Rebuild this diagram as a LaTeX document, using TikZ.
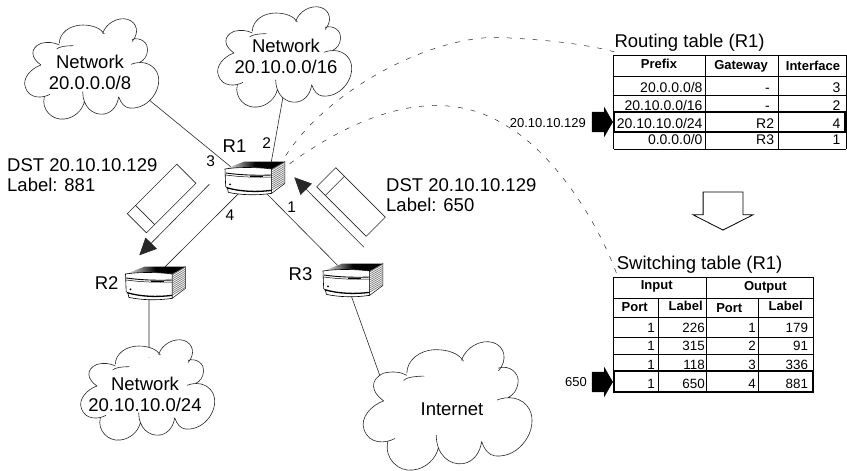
\documentclass[tikz,border=0pt]{standalone}
\usepackage{fontspec}
\setmainfont{Liberation Sans}
\usetikzlibrary{arrows.meta,backgrounds,calc,shapes.arrows}
\definecolor{linkgray}{RGB}{40,40,40}
\definecolor{hatchgray}{RGB}{120,120,120}
\tikzset{
    cloudpic/.pic={
        \begin{scope}[scale=0.3333, shift={(-278,-207)}]
            \fill[white] (125,195) -- (180,135) -- (315,102) -- (398,125) -- (420,188) -- (395,193)
                -- (358,290) -- (255,305) -- (135,290) -- cycle;
            \draw[linkgray, line width=0.6pt, fill=white]
                (125,195) .. controls (95,205) and (68,235) .. (78,262) .. controls (90,298) and (130,295) .. (152,283)
                (135,290) .. controls (125,330) and (160,362) .. (195,357) .. controls (225,354) and (250,330) .. (255,305)
                (250,275) .. controls (250,320) and (280,347) .. (315,342) .. controls (340,337) and (355,315) .. (358,290)
                (395,193) .. controls (420,183) and (455,185) .. (472,215) .. controls (495,260) and (450,330) .. (390,324)
                    .. controls (375,322) and (365,310) .. (358,290)
                (398,118) .. controls (425,110) and (447,130) .. (445,150) .. controls (443,170) and (435,180) .. (420,188)
                (310,100) .. controls (320,70) and (355,50) .. (385,58) .. controls (415,68) and (420,100) .. (398,125)
                (180,130) .. controls (180,100) and (210,75) .. (250,75) .. controls (280,75) and (305,85) .. (315,102)
                (125,195) .. controls (95,175) and (90,145) .. (125,130) .. controls (145,125) and (165,127) .. (180,135);
            \draw[linkgray, line width=0.6pt] (172,147) .. controls (178,140) and (200,137) .. (222,137);
        \end{scope}
    },
    routerpic/.pic={
        \begin{scope}[scale=0.3333, shift={(-105,-69)}]
            \shade[left color=white, right color=black, middle color=black]
                (15,42) -- (72,20) -- (195,20) -- (155,42) .. controls (110,36) and (50,36) .. (15,42);
            \draw[fill=white, line width=0.5pt] (155,42) -- (195,20) -- (195,85) -- (155,115) -- cycle;
            \foreach \hatch in {28,34,...,88}
                \draw[hatchgray, line width=0.7pt] (157,\hatch+16) -- (194,\hatch-6);
            \draw[fill=white, line width=0.6pt] (15,42) .. controls (50,36) and (110,36) .. (155,42) -- (155,115)
                .. controls (110,122) and (60,120) .. (25,112) -- (22,98) -- (17,95) -- cycle;
            \draw[line width=0.9pt] (17,54) .. controls (60,60) and (110,62) .. (155,60);
            \draw[line width=0.5pt] (17,60) .. controls (60,66) and (110,68) .. (155,66);
            \draw[line width=1.4pt] (90,65) -- (130,65);
            \draw[line width=1.3pt] (20,98) .. controls (60,110) and (110,112) .. (155,106);
            \fill (30,88) circle (3);
        \end{scope}
    }
}

\begin{document}
\begin{tikzpicture}[x=1pt, y=-1pt]
    \tikzstyle{every node} = [inner sep=0pt, text=black]
    \tikzstyle{bigtext} = [font=\fontsize{18.5}{21}\selectfont, align=center]
    \tikzstyle{leftnote} = [font=\fontsize{18.5}{20.5}\selectfont, align=left, anchor=west]
    \tikzstyle{porttext} = [font=\fontsize{15.5}{17}\selectfont]
    \tikzstyle{routerbox} = [minimum width=48pt, minimum height=22pt]
    \tikzstyle{wirelink} = [draw=linkgray, line width=0.6pt]
    \tikzstyle{tracelink} = [draw=linkgray, line width=0.5pt, dash pattern=on 5pt off 8pt]
    \tikzstyle{packetbox} = [draw=linkgray, line width=0.6pt, minimum width=70pt, minimum height=27pt]
    \tikzstyle{flowarrow} = [draw=linkgray, line width=0.6pt, -{Triangle[length=17pt, width=16pt]}]
    \tikzstyle{blockarrow} = [single arrow, fill=black, inner ysep=10pt, minimum height=21pt,
        single arrow head extend=5pt, single arrow tip angle=120]
    \tikzstyle{tablecell} = [font=\fontsize{14}{16}\selectfont, anchor=base east]
    \tikzstyle{switchcell} = [font=\fontsize{13.4}{16}\selectfont, anchor=base east]
    \tikzstyle{headcell} = [font=\bfseries\fontsize{13}{15}\selectfont]
    \tikzstyle{gridline} = [draw=black, line width=0.7pt]
    \tikzstyle{hitrow} = [draw=black, line width=2.8pt]

    \useasboundingbox (0,0) rectangle (847,471);

    \pic at (92,69) {cloudpic};
    \pic at (285,57) {cloudpic};
    \pic at (148,390) {cloudpic};
    \pic[xscale=1.26, yscale=1.28] at (448,406) {cloudpic};

    \node[bigtext] (netA) at (90,72) {Network\\20.0.0.0/8};
    \node[bigtext] (netB) at (286,56) {Network\\20.10.0.0/16};
    \node[bigtext] (netC) at (145,394) {Network\\20.10.10.0/24};
    \node[font=\fontsize{18.5}{21}\selectfont, minimum width=110pt, minimum height=60pt] (internet) at (452,409) {Internet};

    \node[routerbox] (R1) at (255,178) {};
    \node[routerbox] (R2) at (155.5,283) {};
    \node[routerbox] (R3) at (353,280) {};

    \node[bigtext] (labelRA) at (234.5,146) {R1};
    \node[bigtext] (labelRB) at (106.7,283) {R2};
    \node[bigtext] (labelRC) at (300.5,274) {R3};

    \node[porttext] (portC) at (210.7,160.7) {3};
    \node[porttext] (portB) at (266.7,142.7) {2};
    \node[porttext] (portD) at (230,215) {4};
    \node[porttext] (portA) at (291.7,207) {1};

    \node[leftnote] (noteL) at (7,175.2) {DST 20.10.10.129\\Label: 881};
    \node[leftnote] (noteR) at (386,195.2) {DST 20.10.10.129\\Label: 650};

    \node[packetbox, rotate=45] (packetL) at (161.6,198.5) {};
    \draw[wirelink] ($(packetL.north west)!0.17!(packetL.north east)$) -- ($(packetL.south west)!0.17!(packetL.south east)$);
    \node[packetbox, rotate=-45] (packetR) at (351,202) {};
    \draw[wirelink] ($(packetR.north west)!0.177!(packetR.north east)$) -- ($(packetR.south west)!0.177!(packetR.south east)$);

    \coordinate (flowLstart) at (209.3,184.3);
    \coordinate (flowLend) at (139.3,255.3);
    \coordinate (flowRstart) at (364,247.3);
    \coordinate (flowRend) at (294.3,177.3);
    \draw[flowarrow] (flowLstart) -- (flowLend);
    \draw[flowarrow] (flowRstart) -- (flowRend);

    \node[anchor=west, font=\fontsize{18.5}{21}\selectfont] (routingtitle) at (614.3,43) {Routing table (R1)};
    \node[anchor=west, font=\fontsize{18.5}{21}\selectfont] (switchingtitle) at (616.7,265) {Switching table (R1)};

    \foreach \y in {55,76,95,149}
        \draw[gridline] (613.5,\y) -- (846,\y);
    \foreach \x in {613.5,705,778,846}
        \draw[gridline] (\x,55) -- (\x,149);

    \node[headcell] (headPrefix) at (659,64.3) {Prefix};
    \node[headcell] (headGateway) at (741,66) {Gateway};
    \node[headcell] (headInterface) at (813,66) {Interface};

    \node[tablecell] (prefixA) at (702.7,92) {20.0.0.0/8};
    \node[tablecell] (prefixB) at (702.7,110) {20.10.0.0/16};
    \node[tablecell] (prefixC) at (702.7,128) {20.10.10.0/24};
    \node[tablecell] (prefixD) at (702.7,144.5) {0.0.0.0/0};
    \node[tablecell] (gatewayA) at (770,92) {-};
    \node[tablecell] (gatewayB) at (770,110) {-};
    \node[tablecell] (gatewayC) at (774.3,128) {R2};
    \node[tablecell] (gatewayD) at (774.3,144.5) {R3};
    \node[tablecell] (ifaceA) at (840.7,92) {3};
    \node[tablecell] (ifaceB) at (840.7,110) {2};
    \node[tablecell] (ifaceC) at (840.7,128) {4};
    \node[tablecell] (ifaceD) at (840.7,144.5) {1};

    \draw[hitrow] (614,112) rectangle (845,132);

    \node[blockarrow] (routingarrow) at (599.5,122) {};
    \node[anchor=east, font=\fontsize{13}{15}\selectfont] (routingaddr) at (586,123) {20.10.10.129};

    \node[draw=black, line width=0.8pt, fill=white, single arrow, shape border rotate=270, inner xsep=19.5pt, minimum height=38pt,
        single arrow head extend=10pt, single arrow tip angle=126] (convertarrow) at (723,206) {};

    \foreach \y in {277,298,317,337,354}
        \draw[gridline] (613,\y) -- (813,\y);
    \draw[gridline] (613,277) -- (613,392);
    \draw[gridline] (706,277) -- (706,392);
    \draw[gridline] (813,277) -- (813,392);
    \draw[gridline] (658,298) -- (658,392);
    \draw[gridline] (758,298) -- (758,392);

    \node[headcell] (headInput) at (656.7,286.7) {Input};
    \node[headcell] (headOutput) at (765.3,287.7) {Output};
    \node[headcell] (headPortA) at (634.7,306.7) {Port};
    \node[headcell] (headLabelA) at (685.7,306) {Label};
    \node[headcell] (headPortB) at (729.3,308) {Port};
    \node[headcell] (headLabelB) at (785.7,306) {Label};

    \foreach \n/\y/\la/\pb/\lb in {A/332/226/1/179, B/350.5/315/2/91, C/369/118/3/336, D/388/650/4/881}{
        \node[switchcell] (inport\n) at (655,\y) {1};
        \node[switchcell] (inlabel\n) at (705,\y) {\la};
        \node[switchcell] (outport\n) at (756,\y) {\pb};
        \node[switchcell] (outlabel\n) at (808.3,\y) {\lb};
    }

    \draw[hitrow] (614,371) rectangle (813,392);

    \node[blockarrow] (switchingarrow) at (599.5,382) {};
    \node[anchor=east, font=\fontsize{13}{15}\selectfont] (switchingaddr) at (587,381.7) {650};

    \begin{scope}[on background layer]
        \draw[wirelink] (netA.-18) -- (R1.north west);
        \draw[wirelink] (netB.-86) -- (R1.36);
        \draw[wirelink] (R1.-137.5) -- (R2.68);
        \draw[wirelink] (R1.-57.5) -- (R3.137);
        \draw[wirelink] (R2.-120.6) -- (netC.77);
        \draw[wirelink] (R3.-107.6) -- (internet.194);
        \draw[tracelink] (R1.north east) .. controls (320,90) and (440,30) .. (510,38)
            .. controls (550,40) and (590,45) .. (routingtitle.south west);
        \draw[tracelink] (R1.15) .. controls (340,125) and (430,78) .. (505,125)
            .. controls (550,150) and (595,215) .. (switchingtitle.south west);
    \end{scope}

    \pic at (R1) {routerpic};
    \pic at (R2) {routerpic};
    \pic at (R3) {routerpic};
\end{tikzpicture}
\end{document}
